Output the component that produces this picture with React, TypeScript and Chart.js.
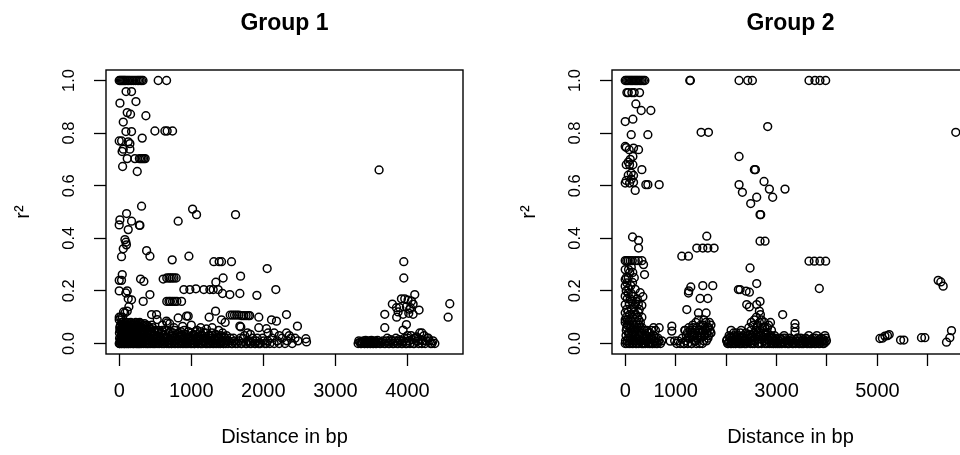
import React, { useEffect, useRef } from 'react';
import { Chart, registerables } from 'chart.js';

Chart.register(...registerables);

const FONT = "'Liberation Sans', Arial, Helvetica, sans-serif";

const panelTitles = ['Group 1', 'Group 2'];
const xAxisTitle = 'Distance in bp';
const yAxisTitle = 'r²';
const yTicks = [0, 0.2, 0.4, 0.6, 0.8, 1.0];
const g1XTicks = [0, 1000, 2000, 3000, 4000];
const g1XLabels = ['0', '1000', '2000', '3000', '4000'];
const g2XTicks = [0, 1000, 2000, 3000, 4000, 5000, 6000];
const g2XLabels = ['0', '1000', '', '3000', '', '5000', ''];

// Group 1: [distance in bp, r2]
const group1Points: [number, number][] = [
  [0, 1], [15, 1], [30, 1], [45, 1], [60, 1], [75, 1], [90, 1], [110, 1], [130, 1], [150, 1], [175, 1], [200, 1], [225, 1], [250, 1], [270, 1], [290, 1], [310, 1], [330, 1], [541, 1], [657, 1],
  [95, 0.958], [171, 0.958], [10, 0.914], [232, 0.92], [111, 0.878], [157, 0.872], [370, 0.866], [56, 0.842],
  [93, 0.806], [171, 0.806], [495, 0.808], [634, 0.808], [665, 0.808], [740, 0.808], [319, 0.781],
  [0, 0.77], [33, 0.77], [125, 0.767], [148, 0.76], [56, 0.739], [148, 0.739], [40, 0.73],
  [111, 0.703], [218, 0.703], [280, 0.703], [300, 0.703], [320, 0.703], [340, 0.703], [360, 0.703],
  [47, 0.673], [250, 0.654],
  [310, 0.522], [1018, 0.511], [1073, 0.49], [1614, 0.49], [102, 0.494], [9, 0.47], [0, 0.451], [171, 0.465], [287, 0.449], [280, 0.45], [125, 0.433], [818, 0.465],
  [79, 0.395], [93, 0.385], [100, 0.375], [56, 0.36], [32, 0.33],
  [380, 0.353], [426, 0.332], [735, 0.318], [967, 0.332],
  [1313, 0.311], [1387, 0.311], [1420, 0.311], [1558, 0.311],
  [2053, 0.285], [1684, 0.256], [1442, 0.249],
  [610, 0.245], [660, 0.249], [690, 0.249], [710, 0.249], [735, 0.249], [760, 0.249], [790, 0.249],
  [42, 0.262], [32, 0.24], [0, 0.24], [0, 0.2],
  [296, 0.245], [342, 0.236], [426, 0.186],
  [92, 0.192], [111, 0.2], [125, 0.17], [171, 0.166], [134, 0.14], [111, 0.123], [79, 0.116],
  [897, 0.205], [980, 0.205], [1064, 0.208], [1174, 0.205], [1258, 0.205], [1304, 0.205], [1373, 0.205],
  [1341, 0.233], [1433, 0.19], [1535, 0.186], [1674, 0.19], [1910, 0.183], [2173, 0.205],
  [660, 0.16], [690, 0.16], [710, 0.16], [740, 0.16], [770, 0.16], [800, 0.16], [865, 0.16], [333, 0.16],
  [1540, 0.108], [1570, 0.108], [1600, 0.108], [1630, 0.108], [1660, 0.108], [1700, 0.106], [1730, 0.106], [1760, 0.106], [1790, 0.106], [1810, 0.106],
  [1248, 0.1], [1337, 0.123], [2321, 0.11], [1937, 0.1], [2113, 0.09], [2182, 0.085], [1937, 0.06], [2473, 0.066], [2043, 0.056], [1674, 0.066], [1419, 0.09],
  [449, 0.11], [527, 0.091], [666, 0.078], [818, 0.097], [934, 0.104], [1470, 0.08], [1687, 0.063], [518, 0.11], [656, 0.085], [957, 0.104],
  [0, 0.1], [8, 0.06], [0, 0.09], [20, 0.1], [45, 0.1], [60, 0.12],
  [0, 0.0], [5, 0.02], [10, 0.05], [15, 0.01], [20, 0.07], [25, 0.03], [30, 0.0], [35, 0.06], [40, 0.02], [45, 0.04], [50, 0.08], [55, 0.01], [60, 0.05], [65, 0.03], [70, 0.0], [75, 0.07], [80, 0.02], [85, 0.04], [90, 0.06], [95, 0.01],
  [100, 0.03], [105, 0.08], [110, 0.0], [115, 0.05], [120, 0.02], [125, 0.07], [130, 0.04], [135, 0.01], [140, 0.06], [145, 0.03], [150, 0.0], [155, 0.05], [160, 0.08], [165, 0.02], [170, 0.04], [175, 0.07], [180, 0.01], [185, 0.03], [190, 0.06], [195, 0.0],
  [200, 0.04], [205, 0.07], [210, 0.02], [215, 0.05], [220, 0.0], [225, 0.03], [230, 0.08], [235, 0.01], [240, 0.06], [245, 0.04], [250, 0.02], [255, 0.07], [260, 0.0], [265, 0.05], [270, 0.03], [275, 0.06], [280, 0.01], [285, 0.08], [290, 0.04], [295, 0.02],
  [300, 0.06], [310, 0.0], [320, 0.04], [330, 0.07], [340, 0.02], [350, 0.05], [360, 0.0], [370, 0.03], [380, 0.07], [390, 0.01], [400, 0.05], [410, 0.02], [420, 0.06], [430, 0.0], [440, 0.04], [450, 0.07], [460, 0.01], [470, 0.03], [480, 0.05], [490, 0.0], [500, 0.02],
  [12, 0.0], [42, 0.01], [68, 0.0], [98, 0.02], [128, 0.0], [158, 0.01], [188, 0.0], [218, 0.02], [248, 0.0], [278, 0.0], [305, 0.02], [335, 0.0], [365, 0.01], [395, 0.0], [425, 0.02], [455, 0.0], [485, 0.01],
  [3, 0.04], [8, 0.0], [13, 0.065], [18, 0.015], [23, 0.05], [28, 0.025], [33, 0.08], [38, 0.0], [43, 0.055], [48, 0.03], [53, 0.0], [58, 0.065], [63, 0.015], [68, 0.045], [73, 0.025], [78, 0.06], [83, 0.0], [88, 0.035], [93, 0.075], [98, 0.05],
  [103, 0.0], [108, 0.04], [113, 0.07], [118, 0.015], [123, 0.035], [128, 0.06], [133, 0.0], [138, 0.045], [143, 0.075], [148, 0.02], [153, 0.04], [158, 0.065], [163, 0.0], [168, 0.055], [173, 0.025], [178, 0.045], [183, 0.075], [188, 0.015], [193, 0.05], [198, 0.03],
  [203, 0.0], [208, 0.06], [213, 0.035], [218, 0.075], [223, 0.015], [228, 0.05], [233, 0.035], [238, 0.0], [243, 0.07], [248, 0.045], [253, 0.015], [258, 0.055], [263, 0.03], [268, 0.075], [273, 0.0], [278, 0.045], [283, 0.025], [288, 0.065], [293, 0.0], [298, 0.035],
  [303, 0.075], [313, 0.045], [323, 0.015], [333, 0.055], [343, 0.035], [353, 0.075], [363, 0.02], [373, 0.055], [383, 0.0], [393, 0.04], [403, 0.065], [413, 0.0], [423, 0.035], [433, 0.055], [443, 0.015], [453, 0.045], [463, 0.06], [473, 0.0], [483, 0.03], [493, 0.045],
  [510, 0.0], [520, 0.03], [530, 0.01], [545, 0.05], [555, 0.0], [565, 0.02], [580, 0.04], [590, 0.0], [600, 0.01], [615, 0.03], [625, 0.0], [640, 0.05], [650, 0.02], [660, 0.0], [675, 0.01], [690, 0.04], [700, 0.0], [715, 0.02], [730, 0.0], [740, 0.03],
  [755, 0.01], [770, 0.05], [780, 0.0], [795, 0.02], [810, 0.0], [820, 0.04], [835, 0.01], [850, 0.0], [860, 0.03], [875, 0.0], [890, 0.02], [900, 0.05], [915, 0.0], [930, 0.01], [945, 0.03], [955, 0.0], [970, 0.02], [985, 0.0], [1000, 0.04], [1010, 0.01],
  [1025, 0.0], [1040, 0.03], [1050, 0.0], [1065, 0.02], [1080, 0.05], [1090, 0.0], [1105, 0.01], [1120, 0.03], [1130, 0.0], [1145, 0.02], [1160, 0.0], [1175, 0.04], [1190, 0.01], [1200, 0.0], [1215, 0.02], [1230, 0.0], [1245, 0.03], [1260, 0.01], [1270, 0.0], [1285, 0.04],
  [1300, 0.0], [1315, 0.02], [1330, 0.0], [1345, 0.01], [1360, 0.03], [1375, 0.0], [1390, 0.02], [1405, 0.0], [1420, 0.01], [1435, 0.04], [1450, 0.0], [1465, 0.02], [1480, 0.0], [1495, 0.01],
  [505, 0.015], [525, 0.045], [538, 0.0], [550, 0.025], [572, 0.01], [585, 0.035], [595, 0.05], [608, 0.0], [620, 0.02], [633, 0.01], [645, 0.035], [668, 0.025], [682, 0.0], [695, 0.015], [708, 0.045], [722, 0.0], [735, 0.02], [748, 0.04], [762, 0.0], [775, 0.025],
  [788, 0.01], [802, 0.035], [815, 0.015], [828, 0.0], [842, 0.025], [855, 0.045], [868, 0.01], [882, 0.03], [895, 0.0], [908, 0.015], [922, 0.035], [938, 0.0], [950, 0.02], [962, 0.045], [978, 0.01], [992, 0.025], [1005, 0.0], [1018, 0.015], [1032, 0.035], [1045, 0.0],
  [1058, 0.045], [1072, 0.01], [1085, 0.025], [1098, 0.0], [1112, 0.015], [1125, 0.045], [1138, 0.0], [1152, 0.03], [1168, 0.01], [1182, 0.02], [1195, 0.04], [1208, 0.0], [1222, 0.015], [1238, 0.03], [1252, 0.0], [1265, 0.02], [1278, 0.01], [1292, 0.03], [1308, 0.0], [1322, 0.015],
  [1338, 0.035], [1352, 0.0], [1368, 0.015], [1383, 0.025], [1398, 0.0], [1412, 0.03], [1428, 0.01], [1442, 0.0], [1458, 0.025], [1472, 0.01], [1488, 0.03],
  [600, 0.07], [700, 0.075], [760, 0.06], [880, 0.065], [1000, 0.07], [1130, 0.06], [1210, 0.055], [1290, 0.06], [1380, 0.05],
  [1510, 0.0], [1540, 0.02], [1570, 0.0], [1600, 0.01], [1640, 0.0], [1680, 0.02], [1700, 0.0], [1740, 0.03], [1770, 0.0], [1800, 0.01], [1830, 0.0], [1850, 0.02], [1880, 0.0], [1900, 0.01], [1930, 0.0], [1960, 0.0], [1990, 0.02], [2020, 0.0], [2060, 0.01], [2090, 0.0],
  [2120, 0.02], [2150, 0.0], [2190, 0.01], [2220, 0.0], [2260, 0.02], [2300, 0.0], [2330, 0.01], [2360, 0.03], [2400, 0.0], [2440, 0.02], [2480, 0.01], [2590, 0.018], [2599, 0.006],
  [1520, 0.01], [1555, 0.0], [1585, 0.02], [1615, 0.0], [1655, 0.01], [1690, 0.0], [1720, 0.02], [1755, 0.0], [1785, 0.01], [1815, 0.0], [1860, 0.01], [1890, 0.0], [1915, 0.02], [1945, 0.0], [2005, 0.01], [2040, 0.0],
  [1780, 0.04], [1820, 0.035], [2066, 0.04], [2321, 0.04], [2380, 0.02], [2150, 0.04], [2220, 0.03],
  [3315, 0.0], [3340, 0.005], [3360, 0.0], [3390, 0.01], [3410, 0.0], [3430, 0.005], [3450, 0.0], [3470, 0.01], [3490, 0.0], [3510, 0.005], [3530, 0.0], [3550, 0.01], [3570, 0.0], [3600, 0.005], [3630, 0.0], [3660, 0.01], [3690, 0.0], [3720, 0.02], [3750, 0.0], [3780, 0.01],
  [3810, 0.0], [3840, 0.02], [3870, 0.0], [3900, 0.01], [3930, 0.0], [3960, 0.02], [3990, 0.0], [4020, 0.01], [4050, 0.03], [4080, 0.0], [4110, 0.02], [4140, 0.01], [4170, 0.04], [4200, 0.0], [4230, 0.03], [4260, 0.01], [4290, 0.02], [4320, 0.0], [4355, 0.01], [4200, 0.04],
  [3325, 0.01], [3350, 0.0], [3375, 0.005], [3400, 0.0], [3420, 0.012], [3440, 0.0], [3460, 0.005], [3480, 0.0], [3500, 0.012], [3520, 0.0], [3540, 0.005], [3560, 0.0], [3585, 0.012], [3615, 0.0], [3645, 0.005], [3675, 0.0], [3705, 0.01], [3735, 0.0], [3765, 0.015], [3795, 0.0],
  [3825, 0.01], [3855, 0.0], [3885, 0.015], [3915, 0.0], [3945, 0.01], [3975, 0.0], [4005, 0.02], [4035, 0.0], [4065, 0.015], [4095, 0.0], [4125, 0.025], [4155, 0.0], [4185, 0.015], [4215, 0.01], [4245, 0.0], [4275, 0.02], [4305, 0.01], [4340, 0.0], [4380, 0.0],
  [3606, 0.66], [3949, 0.311], [3949, 0.249], [4101, 0.186], [3916, 0.17], [3962, 0.17], [4008, 0.165], [4055, 0.161], [3847, 0.136], [3893, 0.136], [3985, 0.14], [4041, 0.136], [4078, 0.15], [4161, 0.127], [3939, 0.111], [4018, 0.115], [4078, 0.111], [3685, 0.111],
  [3985, 0.072], [3685, 0.06], [3939, 0.051], [3870, 0.12], [3850, 0.1], [4030, 0.13], [4587, 0.151], [4564, 0.1], [3790, 0.15], [4000, 0.03], [4100, 0.02],
];

// Group 2: [distance in bp, r2]
const group2Points: [number, number][] = [
  [0, 1], [25, 1], [50, 1], [75, 1], [100, 1], [125, 1], [150, 1], [175, 1], [200, 1], [225, 1], [250, 1], [275, 1], [300, 1], [330, 1], [360, 1], [390, 1], [1280, 1], [1292, 1], [2257, 1], [2429, 1], [2521, 1], [3644, 1], [3762, 1], [3861, 1], [3974, 1],
  [33, 0.954], [132, 0.954], [178, 0.954], [284, 0.954], [60, 0.954],
  [211, 0.911], [317, 0.886], [508, 0.886], [0, 0.844], [152, 0.853], [119, 0.794], [449, 0.794],
  [1505, 0.803], [1650, 0.803], [2825, 0.825], [6554, 0.803],
  [0, 0.749], [20, 0.745], [165, 0.743], [79, 0.737], [264, 0.737], [152, 0.711], [330, 0.661],
  [20, 0.68], [86, 0.68], [152, 0.68], [119, 0.648], [60, 0.64], [165, 0.639], [100, 0.7], [60, 0.69],
  [0, 0.61], [86, 0.61], [165, 0.613], [198, 0.582], [409, 0.604], [449, 0.604], [673, 0.604], [20, 0.62], [120, 0.625],
  [2257, 0.711], [2257, 0.604], [2323, 0.575], [2488, 0.532], [2561, 0.661], [2581, 0.661], [2607, 0.556], [2673, 0.49], [2686, 0.49], [2752, 0.616], [2858, 0.587], [2924, 0.556], [3168, 0.587],
  [2673, 0.389], [2772, 0.389], [2475, 0.287], [2607, 0.228],
  [2244, 0.205], [2277, 0.205], [2396, 0.199], [2462, 0.195],
  [2409, 0.148], [2462, 0.139], [2607, 0.148], [2673, 0.16], [2660, 0.123], [3122, 0.11],
  [3644, 0.313], [3749, 0.313], [3861, 0.313], [3974, 0.313], [3848, 0.209],
  [145, 0.405], [264, 0.392], [264, 0.363],
  [0, 0.315], [30, 0.315], [60, 0.315], [100, 0.315], [140, 0.315], [200, 0.315], [260, 0.315], [330, 0.315], [363, 0.3], [383, 0.262],
  [0, 0.281], [66, 0.281], [33, 0.23], [145, 0.232], [0, 0.218], [0, 0.243], [20, 0.25],
  [0, 0.18], [20, 0.2], [40, 0.17], [60, 0.19], [80, 0.15], [100, 0.17], [120, 0.19], [140, 0.16], [160, 0.18], [180, 0.14], [200, 0.15], [220, 0.16], [240, 0.17], [260, 0.15], [280, 0.13],
  [0, 0.148], [30, 0.13], [60, 0.12], [90, 0.11], [120, 0.13], [150, 0.1], [180, 0.12], [210, 0.11], [240, 0.1], [270, 0.09], [300, 0.08], [330, 0.1], [0, 0.117], [20, 0.1], [50, 0.09], [110, 0.09], [0, 0.09], [40, 0.07],
  [60, 0.25], [90, 0.27], [120, 0.29], [150, 0.27], [180, 0.25], [110, 0.22], [70, 0.21], [198, 0.206], [297, 0.193], [350, 0.178], [330, 0.145], [264, 0.117],
  [0, 0.0], [15, 0.03], [30, 0.06], [45, 0.01], [60, 0.04], [75, 0.0], [90, 0.07], [105, 0.02], [120, 0.05], [135, 0.0], [150, 0.03], [165, 0.06], [180, 0.01], [195, 0.04], [210, 0.0], [225, 0.07], [240, 0.02], [255, 0.05], [270, 0.0], [285, 0.03],
  [300, 0.06], [315, 0.01], [330, 0.04], [345, 0.0], [360, 0.02], [380, 0.05], [400, 0.0], [420, 0.03], [440, 0.01], [460, 0.04], [480, 0.0], [500, 0.02], [520, 0.05], [540, 0.0], [560, 0.03], [580, 0.01], [600, 0.05], [620, 0.0], [650, 0.02], [0, 0.08],
  [40, 0.09], [80, 0.085], [561, 0.06], [673, 0.06],
  [5, 0.01], [20, 0.05], [35, 0.0], [50, 0.07], [65, 0.02], [80, 0.04], [95, 0.0], [110, 0.06], [125, 0.01], [140, 0.04], [155, 0.0], [170, 0.07], [185, 0.03], [200, 0.05], [215, 0.02], [230, 0.0], [245, 0.06], [260, 0.03], [275, 0.07], [290, 0.01],
  [305, 0.04], [320, 0.0], [335, 0.06], [350, 0.02], [370, 0.0], [390, 0.03], [410, 0.01], [430, 0.05], [450, 0.0], [470, 0.02], [490, 0.04], [510, 0.0], [530, 0.02], [550, 0.0], [570, 0.03], [590, 0.0], [610, 0.02], [640, 0.0], [670, 0.01], [700, 0.0], [726, 0.01],
  [891, 0.009], [924, 0.066], [924, 0.047], [980, 0.01], [1020, 0.0], [1050, 0.01], [1090, 0.0], [1130, 0.02], [1160, 0.0], [1190, 0.05], [1210, 0.03], [1240, 0.0], [1260, 0.06], [1280, 0.02], [1300, 0.04], [1320, 0.0], [1340, 0.07], [1360, 0.03], [1380, 0.05], [1400, 0.01],
  [1420, 0.06], [1440, 0.02], [1460, 0.04], [1480, 0.0], [1500, 0.07], [1520, 0.03], [1540, 0.05], [1560, 0.01], [1580, 0.06], [1600, 0.08], [1620, 0.04], [1640, 0.02], [1660, 0.06], [1680, 0.05], [1400, 0.08], [1450, 0.09], [1560, 0.09],
  [1170, 0.0], [1200, 0.01], [1230, 0.04], [1250, 0.02], [1290, 0.05], [1310, 0.0], [1330, 0.03], [1350, 0.06], [1370, 0.01], [1390, 0.04], [1410, 0.0], [1430, 0.03], [1470, 0.05], [1490, 0.02], [1510, 0.04], [1530, 0.0], [1550, 0.07], [1570, 0.03], [1590, 0.05], [1610, 0.01],
  [1630, 0.06], [1650, 0.03], [1670, 0.08], [1690, 0.04],
  [1122, 0.332], [1254, 0.332], [1419, 0.363], [1538, 0.363], [1637, 0.363], [1762, 0.363], [1617, 0.408], [1221, 0.129], [1254, 0.192], [1300, 0.215], [1538, 0.22], [1736, 0.22], [1485, 0.171], [1637, 0.171], [1452, 0.116], [1604, 0.116], [1260, 0.2], [1180, 0.05], [1700, 0.07], [1700, 0.04],
  [2030, 0.0], [2060, 0.03], [2090, 0.0], [2120, 0.02], [2150, 0.04], [2180, 0.0], [2210, 0.01], [2240, 0.03], [2270, 0.0], [2300, 0.05], [2330, 0.02], [2360, 0.0], [2390, 0.04], [2420, 0.01], [2450, 0.06], [2480, 0.0], [2510, 0.03], [2540, 0.07], [2570, 0.01], [2600, 0.05],
  [2630, 0.0], [2660, 0.08], [2690, 0.03], [2720, 0.06], [2750, 0.01], [2780, 0.04], [2810, 0.0], [2840, 0.07], [2870, 0.02], [2900, 0.05], [2930, 0.0], [2960, 0.03], [2990, 0.01], [3030, 0.0], [3070, 0.02], [3110, 0.0], [3150, 0.03], [3190, 0.01], [3230, 0.0], [3270, 0.02],
  [3310, 0.0], [3366, 0.075], [3366, 0.06], [3366, 0.044], [3400, 0.01], [3440, 0.0], [3480, 0.02], [3520, 0.0], [3560, 0.01], [3600, 0.0], [3640, 0.03], [3680, 0.0], [3720, 0.02], [3760, 0.0], [3800, 0.03], [3840, 0.0], [3880, 0.02], [3920, 0.0], [3960, 0.03], [3990, 0.01],
  [2010, 0.01], [2045, 0.0], [2075, 0.02], [2105, 0.0], [2135, 0.01], [2165, 0.03], [2195, 0.0], [2225, 0.02], [2255, 0.0], [2285, 0.04], [2315, 0.0], [2345, 0.03], [2375, 0.01], [2405, 0.0], [2435, 0.03], [2465, 0.02], [2495, 0.05], [2525, 0.0], [2555, 0.04], [2585, 0.02],
  [2615, 0.06], [2645, 0.03], [2675, 0.05], [2705, 0.0], [2735, 0.04], [2765, 0.06], [2795, 0.02], [2825, 0.04], [2855, 0.0], [2885, 0.03], [2915, 0.01], [2945, 0.0], [2975, 0.02], [3010, 0.0], [3050, 0.01], [3090, 0.0], [3130, 0.02], [3170, 0.0], [3210, 0.01], [3250, 0.0],
  [3290, 0.01], [3330, 0.0], [3420, 0.02], [3460, 0.0], [3500, 0.01], [3540, 0.0], [3580, 0.02], [3620, 0.0], [3660, 0.01], [3700, 0.0], [3740, 0.01], [3780, 0.0], [3820, 0.01], [3860, 0.0], [3900, 0.01], [3940, 0.0], [3975, 0.02],
  [2020, 0.015], [2052, 0.005], [2082, 0.025], [2112, 0.01], [2142, 0.0], [2172, 0.015], [2202, 0.025], [2232, 0.005], [2262, 0.015], [2292, 0.0], [2322, 0.025], [2352, 0.01], [2382, 0.0], [2412, 0.02], [2442, 0.005], [2472, 0.035], [2502, 0.01], [2532, 0.025], [2562, 0.0], [2592, 0.035],
  [2622, 0.015], [2652, 0.0], [2682, 0.04], [2712, 0.015], [2742, 0.025], [2772, 0.0], [2802, 0.035], [2832, 0.015], [2862, 0.025], [2892, 0.0], [2922, 0.02], [2952, 0.01], [2982, 0.0], [3020, 0.015], [3060, 0.0], [3100, 0.015], [3140, 0.005], [3180, 0.02], [3220, 0.0], [3260, 0.01],
  [3300, 0.015], [3340, 0.005], [3380, 0.0], [3410, 0.02], [3450, 0.01], [3490, 0.0], [3530, 0.015], [3570, 0.005], [3610, 0.015], [3650, 0.0], [3690, 0.015], [3730, 0.005], [3770, 0.02], [3810, 0.005], [3850, 0.015], [3890, 0.005], [3930, 0.015], [3965, 0.005],
  [2500, 0.08], [2560, 0.09], [2620, 0.07], [2700, 0.09], [2760, 0.08], [2820, 0.06], [2880, 0.08], [2600, 0.1], [2680, 0.11], [2200, 0.04], [2100, 0.05],
  [5050, 0.019], [5100, 0.02], [5149, 0.028], [5234, 0.034], [5200, 0.03], [5459, 0.013], [5525, 0.013], [5874, 0.022], [5941, 0.022],
  [6205, 0.24], [6257, 0.234], [6304, 0.218], [6469, 0.049], [6370, 0.005], [6436, 0.022],
];

const boxPlugin = {
  id: 'rBox',
  afterDatasetsDraw(chart: any) {
    const { ctx, chartArea: a } = chart;
    ctx.save();
    ctx.strokeStyle = '#000';
    ctx.lineWidth = 1.4;
    ctx.strokeRect(a.left, a.top, a.right - a.left, a.bottom - a.top);
    ctx.restore();
  },
};

type PanelProps = {
  title: string;
  points: [number, number][];
  xTicks: number[];
  xLabels: string[];
  left: number;
};

function Panel({ title, points, xTicks, xLabels, left }: PanelProps) {
  const ref = useRef<HTMLCanvasElement>(null);
  useEffect(() => {
    const xs = points.map((p) => p[0]);
    const xmin = Math.min(...xs);
    const xmax = Math.max(...xs);
    const xpad = (xmax - xmin) * 0.04;
    const chart = new Chart(ref.current as HTMLCanvasElement, {
      type: 'scatter',
      data: {
        datasets: [
          {
            data: points.map(([x, y]) => ({ x, y })),
            pointRadius: 3.9,
            pointHoverRadius: 3.9,
            pointBorderWidth: 1.5,
            pointBorderColor: '#000',
            pointBackgroundColor: 'rgba(0,0,0,0)',
            showLine: false,
          },
        ],
      },
      options: {
        responsive: false,
        animation: false,
        events: [],
        layout: { padding: { left: 0, right: 43, top: 0, bottom: 0 } },
        plugins: {
          legend: { display: false },
          tooltip: { enabled: false },
          title: {
            display: true,
            text: title,
            fullSize: false,
            color: '#000',
            font: { family: FONT, size: 23, weight: 'bold', lineHeight: 1.2 },
            padding: { top: 10, bottom: 32.4 },
          },
        },
        scales: {
          x: {
            type: 'linear',
            min: xmin - xpad,
            max: xmax + xpad,
            afterBuildTicks: (s: any) => {
              s.ticks = xTicks.map((v) => ({ value: v }));
            },
            afterFit: (s: any) => {
              s.height = 101;
            },
            grid: { display: true, drawOnChartArea: false, drawTicks: true, tickLength: 12, tickColor: '#000', tickWidth: 1.3 },
            border: { display: false },
            ticks: {
              autoSkip: false,
              minRotation: 0,
              maxRotation: 0,
              padding: 13,
              color: '#000',
              font: { family: FONT, size: 20, lineHeight: 1.2 },
              callback: (v: any) => xLabels[xTicks.indexOf(Number(v))] ?? '',
            },
            title: {
              display: true,
              text: xAxisTitle,
              color: '#000',
              font: { family: FONT, size: 20, lineHeight: 1.2 },
              padding: { top: 0, bottom: 6 },
            },
          },
          y: {
            type: 'linear',
            min: -0.04,
            max: 1.04,
            afterBuildTicks: (s: any) => {
              s.ticks = yTicks.map((v) => ({ value: v }));
            },
            afterFit: (s: any) => {
              s.width = 106;
            },
            grid: { display: true, drawOnChartArea: false, drawTicks: true, tickLength: 12, tickColor: '#000', tickWidth: 1.3 },
            border: { display: false },
            ticks: {
              autoSkip: false,
              minRotation: 90,
              maxRotation: 90,
              crossAlign: 'center',
              padding: 13.5,
              color: '#000',
              font: { family: FONT, size: 16.5, lineHeight: 1.2 },
              callback: (v: any) => Number(v).toFixed(1),
            },
            title: {
              display: true,
              text: yAxisTitle,
              color: '#000',
              font: { family: FONT, size: 20, lineHeight: 1.2 },
              padding: { top: 11, bottom: 0 },
            },
          },
        },
      } as any,
      plugins: [boxPlugin],
    });
    return () => chart.destroy();
  }, [points, xTicks, xLabels, title]);
  return (
    <canvas
      ref={ref}
      width={506}
      height={455}
      style={{ position: 'absolute', left, top: 0, width: 506, height: 455 }}
    />
  );
}

export default function App() {
  return (
    <div
      style={{
        position: 'fixed',
        left: 0,
        top: 0,
        width: 960,
        height: 455,
        overflow: 'hidden',
        background: '#fff',
      }}
    >
      <Panel title={panelTitles[0]} points={group1Points} xTicks={g1XTicks} xLabels={g1XLabels} left={0} />
      <Panel title={panelTitles[1]} points={group2Points} xTicks={g2XTicks} xLabels={g2XLabels} left={506} />
    </div>
  );
}
